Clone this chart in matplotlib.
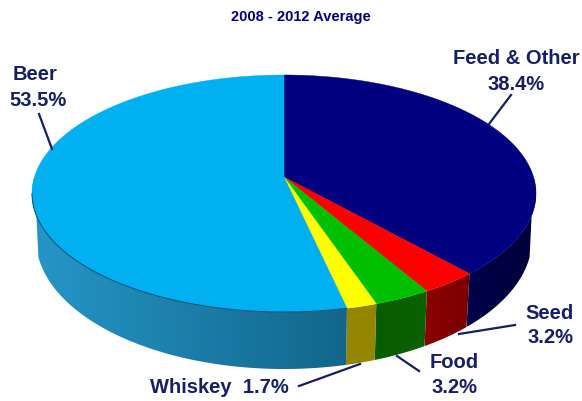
import numpy as np
import matplotlib
matplotlib.use("Agg")
import matplotlib.pyplot as plt
from matplotlib.colors import LinearSegmentedColormap
from matplotlib.patches import Polygon

plt.rcParams['font.family'] = ['Liberation Sans', 'DejaVu Sans']

# clockwise from 12 o'clock
categories = ["Feed & Other", "Seed", "Food", "Whiskey", "Beer"]
shares = [38.4, 3.2, 3.2, 1.7, 53.5]
top_colors = ["#000080", "#ff0000", "#00c000", "#ffff00", "#00b0f0"]
# wall shading, left end to right end of each wedge
wall_left = ["#00004c", "#8a0000", "#0a5c00", "#948600", "#2596c8"]
wall_right = ["#00003a", "#7a0000", "#0a6200", "#948600", "#12668a"]

label_color = "#141f66"
CX, CY = 284, 194.5
RX, RY = 252, 118.5
APEX_Y = 178
# lower outline of the slab, a bit narrower and rounder than the top face
BOTTOM_RX, BOTTOM_RY, BOTTOM_CY = 248, 130, 240

# perspective tilt, puts the wedge apex above the middle of the ellipse
tilt = (CY - APEX_Y) / RY


def rim(theta):
    # theta in degrees clockwise from the top of the pie
    t = np.radians(theta)
    u, v = np.sin(t), np.cos(t)
    w = 1 + tilt * v
    x = CX + RX * np.sqrt(1 - tilt ** 2) * u / w
    y = CY - RY * (v + tilt) / w
    return x, y


def lower_rim(x):
    dx = (x - CX) / RX
    return CX + BOTTOM_RX * dx, BOTTOM_CY + BOTTOM_RY * np.sqrt(np.clip(1 - dx ** 2, 0, 1))


fig = plt.figure(figsize=(5.82, 4.02), dpi=100)
ax = fig.add_axes([0, 0, 1, 1])

edges = np.concatenate([[0], np.cumsum(shares)]) * 3.6

# walls first, only the front half of the rim can be seen
for i in range(len(shares)):
    a0, a1 = edges[i], edges[i + 1]
    lo, hi = max(a0, 90), min(a1, 270)
    if lo >= hi:
        continue
    th = np.linspace(lo, hi, 200)
    x, y = rim(th)
    bx, by = lower_rim(x)
    pts = np.vstack([np.column_stack([x, y]), np.column_stack([bx, by])[::-1]])
    poly = Polygon(pts, closed=True, fc="none", ec="none", zorder=2)
    ax.add_patch(poly)
    cmap = LinearSegmentedColormap.from_list("wall", [wall_left[i], wall_right[i]])
    grad = np.linspace(0, 1, 256).reshape(1, -1)
    im = ax.imshow(grad, cmap=cmap, aspect="auto", zorder=2,
                   extent=[pts[:, 0].min(), pts[:, 0].max(), pts[:, 1].max(), pts[:, 1].min()])
    im.set_clip_path(poly)

ax.set_xlim(0, 582)
ax.set_ylim(402, 0)
ax.axis("off")

# top face
apex = rim(0)[0], APEX_Y
for i in range(len(shares)):
    th = np.linspace(edges[i], edges[i + 1], 200)
    x, y = rim(th)
    pts = np.vstack([[apex], np.column_stack([x, y])])
    ax.add_patch(Polygon(pts, closed=True, fc=top_colors[i], ec=top_colors[i],
                         lw=0.3, zorder=3))

# thin dark seam where the top meets the beer wall
th = np.linspace(edges[4], 262, 200)
x, y = rim(th)
ax.plot(x, y, color="#0b4f78", lw=0.7, zorder=3.5)

# leader lines
leaders = [
    ((511, 96), (489, 125)),
    ((39, 115), (52, 150)),
    ((515, 326), (459, 335)),
    ((419, 372), (397, 357)),
    ((299, 387), (360, 365)),
]
for (x0, y0), (x1, y1) in leaders:
    ax.plot([x0, x1], [y0, y1], color=label_color, lw=1.6, zorder=4)

txt = dict(color=label_color, fontweight="bold", fontsize=14.5, zorder=5,
           ha="center", va="center")
ax.text(516, 59, "Feed & Other", **txt)
ax.text(516, 85, "38.4%", **txt)
ax.text(35, 75, "Beer", **txt)
ax.text(38, 101, "53.5%", **txt)
ax.text(550, 314, "Seed", **txt)
ax.text(550, 338, "3.2%", **txt)
ax.text(454, 363, "Food", **txt)
ax.text(454, 388, "3.2%", **txt)
ax.text(219.5, 388, "Whiskey  1.7%", **txt)
ax.text(301, 17.5, "2008 - 2012 Average", color="#000080", fontweight="bold",
        fontsize=10.5, ha="center", va="center")

fig.savefig("out.png", dpi=100)
